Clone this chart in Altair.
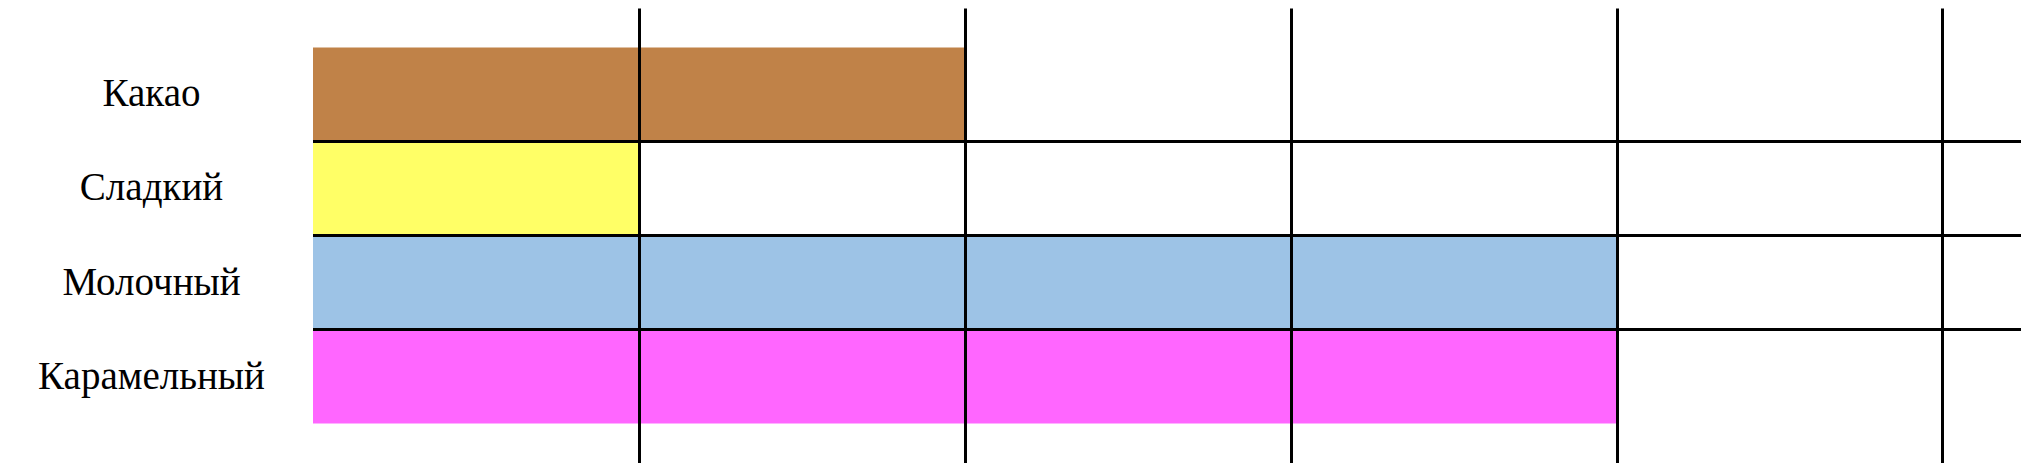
import altair as alt
import pandas as pd

categories = ["Какао", "Сладкий", "Молочный", "Карамельный"]
values = [2, 1, 4, 4]
colors = ["#C08248", "#FFFF66", "#9DC3E6", "#FF66FF"]
x_ticks = [1, 2, 3, 4, 5]

df = pd.DataFrame({"cat": categories, "val": values, "color": colors})
rules_df = pd.DataFrame({"cat": categories[1:]})

y_scale = alt.Scale(domain=categories, paddingInner=0, paddingOuter=0.42)
x_scale = alt.Scale(domain=[0, 5.241], nice=False, zero=True)

bars = alt.Chart(df).mark_bar(strokeWidth=0).encode(
    y=alt.Y("cat:N", scale=y_scale, sort=categories,
            axis=alt.Axis(title=None, domain=False, ticks=False, tickSize=0,
                          grid=False,
                          labelFont="'Liberation Serif', 'Times New Roman', Times, serif",
                          labelFontSize=39, labelColor="black",
                          labelAlign="center", labelBaseline="middle",
                          labelPadding=162, labelLimit=400)),
    x=alt.X("val:Q", scale=x_scale,
            axis=alt.Axis(title=None, values=x_ticks, grid=True,
                          gridColor="black", gridWidth=3, gridOpacity=1,
                          labels=False, ticks=False, domain=False, zindex=1)),
    color=alt.Color("color:N", scale=None),
)

rules = alt.Chart(rules_df).mark_rule(color="black", strokeWidth=3).encode(
    y=alt.Y("cat:N", scale=y_scale, sort=categories, bandPosition=0),
)

chart = alt.layer(bars, rules).properties(
    width=1708, height=455,
    padding={"left": 305, "top": 0, "right": 0, "bottom": 0},
    autosize=alt.AutoSizeParams(type="none"),
).configure_view(stroke=None)

chart.save("out.html", embed_options={"renderer": "svg", "actions": False})
